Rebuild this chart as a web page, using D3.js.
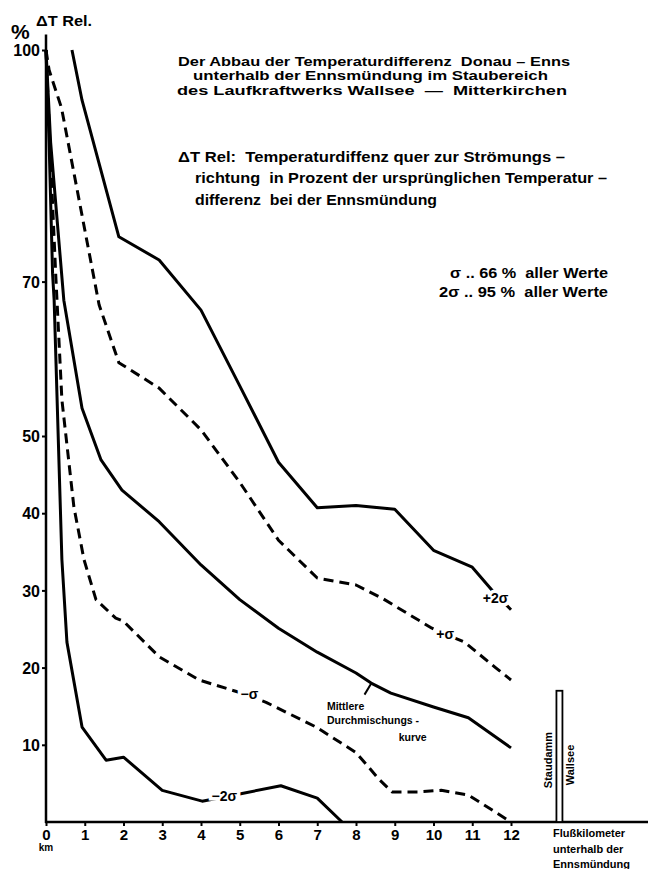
<!DOCTYPE html>
<html>
<head>
<meta charset="utf-8">
<script src="https://d3js.org/d3.v7.min.js"></script>
<style>
  body { margin: 0; background: #fff; }
  svg text { font-family: "Liberation Sans", Arial, sans-serif; font-weight: bold; fill: #000; white-space: pre; }
</style>
</head>
<body>
<div id="chart"></div>
<script>
// Abbau der Temperaturdifferenz Donau - Enns (km, % dT rel)
var plus2s = [[0.67,100],[0.93,93.5],[1.88,75.8],[2.92,72.8],[4,66.3],[5,56.5],[6,46.6],[7,40.7],[8,41],[9,40.5],[10,35.2],[11,33],[11.6,29.5],[12,27.5]];
var plus1s = [[0,100],[0.08,97.4],[0.4,92.5],[1.37,67],[1.88,59.5],[2.92,56.2],[4,50.8],[5,44],[6,36.5],[7,31.6],[8,30.7],[8.67,29],[9.96,25.1],[10.8,23.3],[11.6,20],[12,18.4]];
var mittel = [[0,100],[0.12,88],[0.46,67.6],[0.93,53.6],[1.42,46.9],[1.96,43],[2.92,38.9],[4,33.3],[5,28.8],[6,25.1],[7,22],[8,19.3],[8.39,18],[8.9,16.7],[10,14.9],[10.9,13.5],[12,9.6]];
var minus1s = [[0,100],[0.1,88],[0.25,71],[0.41,54.7],[0.72,40.8],[0.98,34],[1.29,28.8],[1.8,26.4],[2,26],[2.92,21.4],[3.95,18.4],[4.98,16.8],[5.68,15.5],[6.97,12.3],[8,9],[8.6,5.5],[8.93,3.9],[9.6,3.9],[10.2,4.1],[10.9,3.5],[12,0]];
var minus2s = [[0,100],[0.08,88],[0.17,71],[0.21,67.6],[0.41,34],[0.54,23.3],[0.93,12.3],[1.55,8],[2,8.4],[3,4.1],[4.03,2.7],[5.06,3.7],[6.06,4.7],[7,3.1],[7.64,0]];

var yTicks = [10,20,30,40,50,70,100];
var xTicks = [0,1,2,3,4,5,6,7,8,9,10,11,12];
var damKm = 13.25, damTop = 17;

var titleLines = ["Der Abbau der Temperaturdifferenz  Donau – Enns",
                  "unterhalb der Ennsmündung im Staubereich",
                  "des Laufkraftwerks Wallsee  —  Mitterkirchen"];
var noteLines = ["ΔT Rel:  Temperaturdiffenz quer zur Strömungs –",
                 "richtung  in Prozent der ursprünglichen Temperatur –",
                 "differenz  bei der Ennsmündung"];
var legendLines = ["σ .. 66 %  aller Werte", "2σ .. 95 %  aller Werte"];
var xTitle = ["Flußkilometer", "unterhalb der", "Ennsmündung"];

var width = 648, height = 869;

var svg = d3.select("#chart").append("svg")
    .attr("width", width)
    .attr("height", height);

var x = d3.scaleLinear().domain([0, 12]).range([46, 511]);
var y = d3.scaleLinear().domain([0, 100]).range([822, 50]);

var line = d3.line()
    .x(function(d){ return x(d[0]); })
    .y(function(d){ return y(d[1]); });

// axes
var yAxis = svg.append("g")
    .attr("transform", "translate(" + x(0) + ",0)")
    .call(d3.axisLeft(y).tickValues(yTicks).tickSize(4).tickPadding(2));
yAxis.select(".domain").remove();
yAxis.selectAll("text").style("font-size", "16px").attr("dy", "0.36em");
yAxis.selectAll("line").attr("stroke-width", 2);

var xAxis = svg.append("g")
    .attr("transform", "translate(0," + y(0) + ")")
    .call(d3.axisBottom(x).tickValues(xTicks).tickSize(4).tickPadding(3));
xAxis.select(".domain").remove();
xAxis.selectAll("text").style("font-size", "15px");
xAxis.selectAll("line").attr("stroke-width", 2);

svg.append("line")
    .attr("x1", x(0)).attr("x2", x(0))
    .attr("y1", y(102)).attr("y2", y(0) + 1)
    .attr("stroke", "#000").attr("stroke-width", 2.5);
svg.append("line")
    .attr("x1", x(0) - 1).attr("x2", width)
    .attr("y1", y(0)).attr("y2", y(0))
    .attr("stroke", "#000").attr("stroke-width", 2.5);

svg.append("text").attr("x", x(0)).attr("y", 851)
    .attr("text-anchor", "middle").style("font-size", "10px").text("km");

svg.append("text").attr("x", 11).attr("y", 39).style("font-size", "21px").text("%");
svg.append("text").attr("x", 36).attr("y", 26)
    .attr("textLength", 56).attr("lengthAdjust", "spacingAndGlyphs")
    .style("font-size", "14px").text("ΔT Rel.");

// curves
var curves = [
  {data: plus2s, dash: null},
  {data: plus1s, dash: "10,6"},
  {data: mittel, dash: null},
  {data: minus1s, dash: "10,6"},
  {data: minus2s, dash: null}
];
svg.selectAll("path.curve").data(curves).enter().append("path")
    .attr("class", "curve")
    .attr("d", function(c){ return line(c.data); })
    .attr("fill", "none")
    .attr("stroke", "#000")
    .attr("stroke-width", 3)
    .attr("stroke-linejoin", "round")
    .attr("stroke-dasharray", function(c){ return c.dash; });

// curve labels, white halo cuts the line like in the scan
function curveLabel(txt, km, v, size){
  svg.append("text")
    .attr("x", x(km)).attr("y", y(v))
    .attr("dy", "0.35em")
    .attr("text-anchor", "middle")
    .style("font-size", size + "px")
    .attr("stroke", "#fff").attr("stroke-width", 7)
    .attr("paint-order", "stroke")
    .text(txt);
}
curveLabel("+2σ", 11.6, 29, 14);
curveLabel("+σ", 10.3, 24.4, 14);
curveLabel("−σ", 5.25, 16.6, 14);
curveLabel("−2σ", 4.6, 3.4, 14);

// Mittlere Durchmischungskurve
svg.append("line")
    .attr("x1", x(8.4)).attr("y1", y(18))
    .attr("x2", x(8.22)).attr("y2", y(16.5))
    .attr("stroke", "#000").attr("stroke-width", 2);
svg.append("text").attr("x", x(7.25)).attr("y", 710).style("font-size", "10.5px").text("Mittlere");
svg.append("text").attr("x", x(7.25)).attr("y", 724).style("font-size", "10.5px").text("Durchmischungs -");
svg.append("text").attr("x", x(9.1)).attr("y", 741).style("font-size", "10.5px").text("kurve");

// Staudamm
svg.append("rect")
    .attr("x", x(damKm) - 3).attr("y", y(damTop))
    .attr("width", 6).attr("height", y(0) - y(damTop))
    .attr("fill", "#fff").attr("stroke", "#000").attr("stroke-width", 1.8);
svg.append("text")
    .attr("transform", "translate(" + (x(damKm) - 7) + ",760) rotate(-90)")
    .attr("text-anchor", "middle").style("font-size", "11px").text("Staudamm");
svg.append("text")
    .attr("transform", "translate(" + (x(damKm) + 15) + ",765) rotate(-90)")
    .attr("text-anchor", "middle").style("font-size", "11px").text("Wallsee");

svg.selectAll("text.xtitle").data(xTitle).enter().append("text")
    .attr("class", "xtitle")
    .attr("x", 553)
    .attr("y", function(d, i){ return 837 + i * 15.5; })
    .style("font-size", "11px")
    .text(function(d){ return d; });

// header texts
var titlePos = [[178, 66, 392], [193, 80, 355], [177, 94.5, 390]];
svg.selectAll("text.title").data(titleLines).enter().append("text")
    .attr("class", "title")
    .attr("x", function(d, i){ return titlePos[i][0]; })
    .attr("y", function(d, i){ return titlePos[i][1]; })
    .attr("textLength", function(d, i){ return titlePos[i][2]; })
    .attr("lengthAdjust", "spacingAndGlyphs")
    .style("font-size", "12.5px")
    .text(function(d){ return d; });

var notePos = [[178, 162, 387], [195, 183, 412], [195, 205, 242]];
svg.selectAll("text.note").data(noteLines).enter().append("text")
    .attr("class", "note")
    .attr("x", function(d, i){ return notePos[i][0]; })
    .attr("y", function(d, i){ return notePos[i][1]; })
    .attr("textLength", function(d, i){ return notePos[i][2]; })
    .attr("lengthAdjust", "spacingAndGlyphs")
    .style("font-size", "14px")
    .text(function(d){ return d; });

var legendPos = [[450, 278, 158], [439, 297, 169]];
svg.selectAll("text.legend").data(legendLines).enter().append("text")
    .attr("class", "legend")
    .attr("x", function(d, i){ return legendPos[i][0]; })
    .attr("y", function(d, i){ return legendPos[i][1]; })
    .attr("textLength", function(d, i){ return legendPos[i][2]; })
    .attr("lengthAdjust", "spacingAndGlyphs")
    .style("font-size", "14px")
    .text(function(d){ return d; });
</script>
</body>
</html>
